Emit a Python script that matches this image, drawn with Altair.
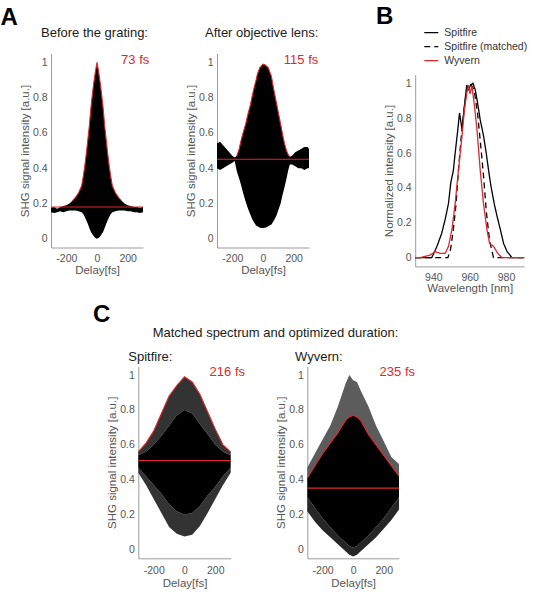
import altair as alt
import pandas as pd

FONT = "Liberation Sans"
RED = "#e2262d"
AX_GREY = "#9c9c9c"
TXT_GREY = "#555555"

# ---------------- Panel A: before the grating (73 fs) ----------------
a1_delay = [-300, -280, -260, -240, -220, -200, -180, -160, -140, -120, -100,
            -90, -80, -70, -60, -50, -40, -30, -20, -10, 0, 10, 20, 30, 40, 50, 60, 70, 80, 90,
            100, 120, 140, 160, 180, 200, 220, 240, 260, 280, 300]
a1_upper = [0.175, 0.18, 0.17, 0.18, 0.185, 0.19, 0.20, 0.215, 0.235, 0.26, 0.30,
            0.35, 0.41, 0.48, 0.56, 0.64, 0.74, 0.82, 0.89, 0.95, 1.0, 0.95, 0.89, 0.82, 0.74, 0.64, 0.56, 0.48, 0.41, 0.35,
            0.30, 0.26, 0.235, 0.215, 0.20, 0.19, 0.185, 0.18, 0.18, 0.175, 0.18]
a1_lower = [0.15, 0.145, 0.15, 0.155, 0.15, 0.155, 0.16, 0.16, 0.16, 0.155, 0.15,
            0.14, 0.125, 0.105, 0.085, 0.06, 0.04, 0.025, 0.012, 0.004, 0.0, 0.004, 0.012, 0.025, 0.04, 0.06, 0.085, 0.105, 0.125, 0.14,
            0.15, 0.155, 0.16, 0.16, 0.16, 0.155, 0.155, 0.15, 0.15, 0.145, 0.15]
a1_baseline = 0.18
a1_fit_range = [-170, 170]

# ---------------- Panel A: after objective lens (115 fs) ----------------
a2_delay = [-300, -280, -260, -240, -220, -200, -185, -170, -155, -145,
            -130, -113, -100, -82, -70, -57, -45, -36, -20, 0,
            15, 34, 55, 65, 76, 90, 101, 115, 128, 140,
            153, 165, 175, 190, 210, 230, 250, 270, 290, 300]
a2_upper = [0.54, 0.55, 0.53, 0.51, 0.49, 0.47, 0.46, 0.47, 0.51, 0.55,
            0.60, 0.65, 0.70, 0.76, 0.81, 0.86, 0.90, 0.935, 0.97, 0.99,
            0.985, 0.97, 0.92, 0.87, 0.82, 0.76, 0.71, 0.65, 0.59, 0.54,
            0.50, 0.475, 0.465, 0.47, 0.49, 0.50, 0.51, 0.52, 0.52, 0.51]
a2_lower = [0.40, 0.39, 0.40, 0.41, 0.42, 0.43, 0.44, 0.38, 0.34, 0.31,
            0.26, 0.21, 0.175, 0.135, 0.11, 0.09, 0.075, 0.07, 0.062, 0.06,
            0.062, 0.07, 0.08, 0.095, 0.11, 0.135, 0.165, 0.20, 0.25, 0.29,
            0.34, 0.39, 0.42, 0.42, 0.41, 0.40, 0.40, 0.39, 0.40, 0.40]
a2_baseline = 0.45
a2_fit_range = [-175, 180]

# ---------------- Panel B: spectra ----------------
series_names = ["Spitfire", "Spitfire (matched)", "Wyvern"]
spit_nm = [930, 939.1, 941.9, 944.6, 946.5, 948.3, 949.6, 951.0, 952.0, 953.3, 954.4, 955.7, 956.4,
           957.5, 958.4, 959.3, 960.5, 961.8, 963.0, 964.3, 965.8, 967.6, 969.1, 970.4, 971.7,
           973.5, 975.0, 976.9, 978.7, 980.6, 983.3, 990]
spit_val = [0, 0, 0.063, 0.14, 0.22, 0.31, 0.43, 0.50, 0.60, 0.72, 0.83, 0.74, 0.80,
            0.91, 0.99, 0.965, 0.99, 1.0, 0.965, 0.89, 0.79, 0.70, 0.60, 0.50, 0.41,
            0.31, 0.24, 0.16, 0.08, 0.035, 0, 0]
matched_nm = [930, 948.0, 949.5, 951.0, 952.5, 953.8, 955.3, 956.9, 958.4, 960.2, 962.4,
              964.3, 966.1, 967.6, 969.1, 970.9, 973.1, 990]
matched_val = [0, 0, 0.05, 0.16, 0.31, 0.50, 0.69, 0.85, 0.965, 1.0, 0.965,
               0.83, 0.64, 0.47, 0.27, 0.10, 0, 0]
wyv_nm = [930, 932.7, 938.2, 941.0, 943.7, 946.5, 948.3, 950.2, 952.0, 953.8, 955.7, 957.1,
          958.4, 959.3, 960.2, 961.2, 962.4, 964.0, 965.8, 967.6, 969.5, 970.9, 973.2,
          975.4, 977.8, 990]
wyv_val = [0, 0, 0.015, 0.035, 0.025, 0.025, 0.064, 0.16, 0.31, 0.50, 0.69, 0.85,
           0.945, 0.99, 0.94, 0.985, 0.89, 0.735, 0.50, 0.31, 0.16, 0.083, 0.064,
           0.025, 0, 0]

# ---------------- Panel C: Spitfire (216 fs) ----------------
c1_delay = [-300, -250, -200, -150, -100, -50, 0, 50, 100, 150, 200, 250, 300]
c1_outer_up = [0.56, 0.61, 0.68, 0.78, 0.88, 0.94, 0.99, 0.96, 0.89, 0.79, 0.69, 0.60, 0.56]
c1_inner_up = [0.54, 0.56, 0.60, 0.65, 0.71, 0.77, 0.80, 0.78, 0.72, 0.66, 0.60, 0.56, 0.54]
c1_inner_lo = [0.47, 0.42, 0.37, 0.32, 0.26, 0.22, 0.20, 0.21, 0.25, 0.31, 0.36, 0.42, 0.47]
c1_outer_lo = [0.44, 0.37, 0.29, 0.21, 0.13, 0.09, 0.075, 0.085, 0.135, 0.21, 0.29, 0.37, 0.44]
c1_baseline = 0.51

# ---------------- Panel C: Wyvern (235 fs) ----------------
c2_delay = [-300, -250, -200, -150, -100, -50, -25, 0, 25, 50, 100, 150, 200, 250, 300]
c2_outer_up = [0.47, 0.55, 0.63, 0.71, 0.82, 0.95, 1.0, 0.97, 0.96, 0.91, 0.82, 0.71, 0.62, 0.53, 0.49]
c2_inner_up = [0.41, 0.48, 0.55, 0.61, 0.67, 0.74, 0.76, 0.77, 0.76, 0.74, 0.66, 0.60, 0.54, 0.48, 0.42]
c2_inner_lo = [0.30, 0.24, 0.18, 0.13, 0.08, 0.04, 0.02, 0.01, 0.02, 0.04, 0.08, 0.13, 0.18, 0.24, 0.30]
c2_outer_lo = [0.22, 0.16, 0.11, 0.07, 0.03, -0.01, -0.03, -0.04, -0.03, -0.01, 0.03, 0.07, 0.12, 0.17, 0.23]
c2_baseline = 0.352

delay_ticks = [-200, 0, 200]
wl_ticks = [940, 960, 980]
int_ticks = [0, 0.2, 0.4, 0.6, 0.8, 1]


def x_axis(title, values, h, yr, pad, title_y):
    return alt.Axis(title=title, values=values, labelExpr="toString(datum.value)",
                    offset=-(h - yr[0]), grid=False, ticks=False, tickSize=0,
                    domainColor=AX_GREY, domainWidth=1, labelFont=FONT, labelFontSize=10.5,
                    labelColor=TXT_GREY, labelPadding=pad, labelFlush=False,
                    titleFont=FONT, titleFontSize=11.5, titleFontWeight="normal",
                    titleColor=TXT_GREY, titleY=title_y, titleBaseline="alphabetic")


def y_axis(title, xr, yr):
    return alt.Axis(title=title, values=int_ticks, labelExpr="toString(datum.value)",
                    offset=-xr[0], grid=False, ticks=False, tickSize=0,
                    domainColor=AX_GREY, domainWidth=1, labelFont=FONT, labelFontSize=10.5,
                    labelColor=TXT_GREY, labelPadding=4,
                    titleFont=FONT, titleFontSize=11.5, titleFontWeight="normal",
                    titleColor=TXT_GREY, titleX=-25.5, titleY=(yr[0] + yr[1]) / 2,
                    titleBaseline="middle")


def text(t, x, y, size=13, color="#1a1a1a", align="left", weight="normal"):
    return alt.Chart(pd.DataFrame({"t": [t]})).mark_text(
        align=align, baseline="alphabetic", font=FONT, fontSize=size,
        fontWeight=weight, color=color).encode(
        text="t:N", x=alt.value(x), y=alt.value(y))


def acf_panel(delay, bands, fit, base, xr, yr, w, h, label_pad, title_y):
    xs = alt.Scale(domain=[-300, 300], range=xr, nice=False, zero=False)
    ys = alt.Scale(domain=[-0.05, 1.05], range=yr, nice=False, zero=False)
    xa = x_axis("Delay[fs]", delay_ticks, h, yr, label_pad, title_y)
    ya = y_axis("SHG signal intensity [a.u.]", xr, yr)
    layers = []
    for lo, up, col in bands:
        df = pd.DataFrame({"delay": delay, "lo": lo, "up": up})
        layers.append(alt.Chart(df).mark_area(color=col, opacity=1).encode(
            x=alt.X("delay:Q", scale=xs, axis=xa),
            y=alt.Y("lo:Q", scale=ys, axis=ya),
            y2="up:Q"))
    fx, fy, (f0, f1) = fit
    fdf = pd.DataFrame({"delay": fx, "v": fy})
    fdf = fdf[(fdf["delay"] >= f0) & (fdf["delay"] <= f1)]
    layers.append(alt.Chart(fdf).mark_line(color=RED, strokeWidth=1.1).encode(
        x=alt.X("delay:Q", scale=xs, axis=xa),
        y=alt.Y("v:Q", scale=ys, axis=ya)))
    bdf = pd.DataFrame({"x0": [-300], "x1": [300], "b": [base]})
    layers.append(alt.Chart(bdf).mark_rule(color=RED, strokeWidth=1.1).encode(
        x=alt.X("x0:Q", scale=xs, axis=xa), x2="x1:Q",
        y=alt.Y("b:Q", scale=ys, axis=ya)))
    return layers, (w, h)


# ---- A1 ----
A1_xr, A1_yr = [51, 143], [247.5, 53.5]
l, (w, h) = acf_panel(a1_delay, [(a1_lower, a1_upper, "black")],
                      (a1_delay, a1_upper, a1_fit_range), a1_baseline,
                      A1_xr, A1_yr, 200, 300, 5.5, 26)
l += [text("A", 0.5, 25, size=24, color="black", weight="bold"),
      text("Before the grating:", 94.5, 37.3, align="center"),
      text("73 fs", 149.3, 64, color=RED, align="right")]
A1 = alt.layer(*l).properties(width=w, height=h)

# ---- A2 ----
A2_xr, A2_yr = [17, 109], [247.5, 53.5]
l, (w, h) = acf_panel(a2_delay, [(a2_lower, a2_upper, "black")],
                      (a2_delay, a2_upper, a2_fit_range), a2_baseline,
                      A2_xr, A2_yr, 180, 300, 5.5, 26)
l += [text("After objective lens:", 61.7, 37.3, align="center"),
      text("115 fs", 118.3, 64, color=RED, align="right")]
A2 = alt.layer(*l).properties(width=w, height=h)

# ---- B ----
B_xr, B_yr = [35.2, 144.2], [266.4, 74.6]
spec_df = pd.concat([
    pd.DataFrame({"nm": spit_nm, "v": spit_val, "series": series_names[0], "o": 0}),
    pd.DataFrame({"nm": matched_nm, "v": matched_val, "series": series_names[1], "o": 1}),
    pd.DataFrame({"nm": wyv_nm, "v": wyv_val, "series": series_names[2], "o": 2}),
])
leg = alt.Legend(title=None, orient="none", legendX=423.3, legendY=24.7,
                 symbolType="stroke", symbolSize=196, symbolStrokeWidth=1.3,
                 labelFont=FONT, labelFontSize=10.5, labelColor="#333333",
                 labelOffset=5, rowPadding=0, padding=0)
bx = alt.Scale(domain=[930, 990], range=B_xr, nice=False, zero=False)
by = alt.Scale(domain=[-0.05, 1.05], range=B_yr, nice=False, zero=False)
B_lines = alt.Chart(spec_df).mark_line(strokeWidth=1.3).encode(
    x=alt.X("nm:Q", scale=bx, axis=x_axis("Wavelength [nm]", wl_ticks, 300, B_yr, 6, 25.3)),
    y=alt.Y("v:Q", scale=by, axis=y_axis("Normalized intensity [a.u.]", B_xr, B_yr)),
    color=alt.Color("series:N", scale=alt.Scale(domain=series_names,
                                                range=["#000000", "#000000", RED]), legend=leg),
    strokeDash=alt.StrokeDash("series:N", scale=alt.Scale(domain=series_names,
                                                          range=[[1, 0], [6, 4], [1, 0]]), legend=leg),
    order="o:Q")
B = alt.layer(B_lines, text("B", -4, 24, size=24, color="black", weight="bold")).properties(
    width=154, height=300)

# ---- C1 ----
C_yr = [258.3, 66.3]
C1_xr = [138.3, 230.7]
l, (w, h) = acf_panel(c1_delay,
                      [(c1_outer_lo, c1_inner_lo, "#333333"),
                       (c1_inner_up, c1_outer_up, "#333333"),
                       (c1_inner_lo, c1_inner_up, "black")],
                      (c1_delay, c1_outer_up, [-300, 300]), c1_baseline,
                      C1_xr, C_yr, 200, 294, 7, 28)
l += [text("C", 93, 21.7, size=24, color="black", weight="bold"),
      text("Matched spectrum and optimized duration:", 275.5, 36.7, align="center"),
      text("Spitfire:", 128.3, 61),
      text("216 fs", 245, 76, color=RED, align="right")]
C1 = alt.layer(*l).properties(width=w, height=h)

# ---- C2 ----
C2_xr = [107.3, 199]
l, (w, h) = acf_panel(c2_delay,
                      [(c2_outer_lo, c2_inner_lo, "#262626"),
                       (c2_inner_up, c2_outer_up, "#5c5c5c"),
                       (c2_inner_lo, c2_inner_up, "black")],
                      (c2_delay, c2_inner_up, [-300, 300]), c2_baseline,
                      C2_xr, C_yr, 180, 294, 7, 28)
l += [text("Wyvern:", 95, 61),
      text("235 fs", 215, 76, color=RED, align="right")]
C2 = alt.layer(*l).properties(width=w, height=h)

chart = alt.concat(A1, A2, B, C1, C2, columns=3).properties(
    spacing=0, bounds="flush", align="each", padding=0
).configure(background="white").configure_view(strokeWidth=0, stroke="transparent")

chart.save("out.html", embed_options={"renderer": "svg", "actions": False})
